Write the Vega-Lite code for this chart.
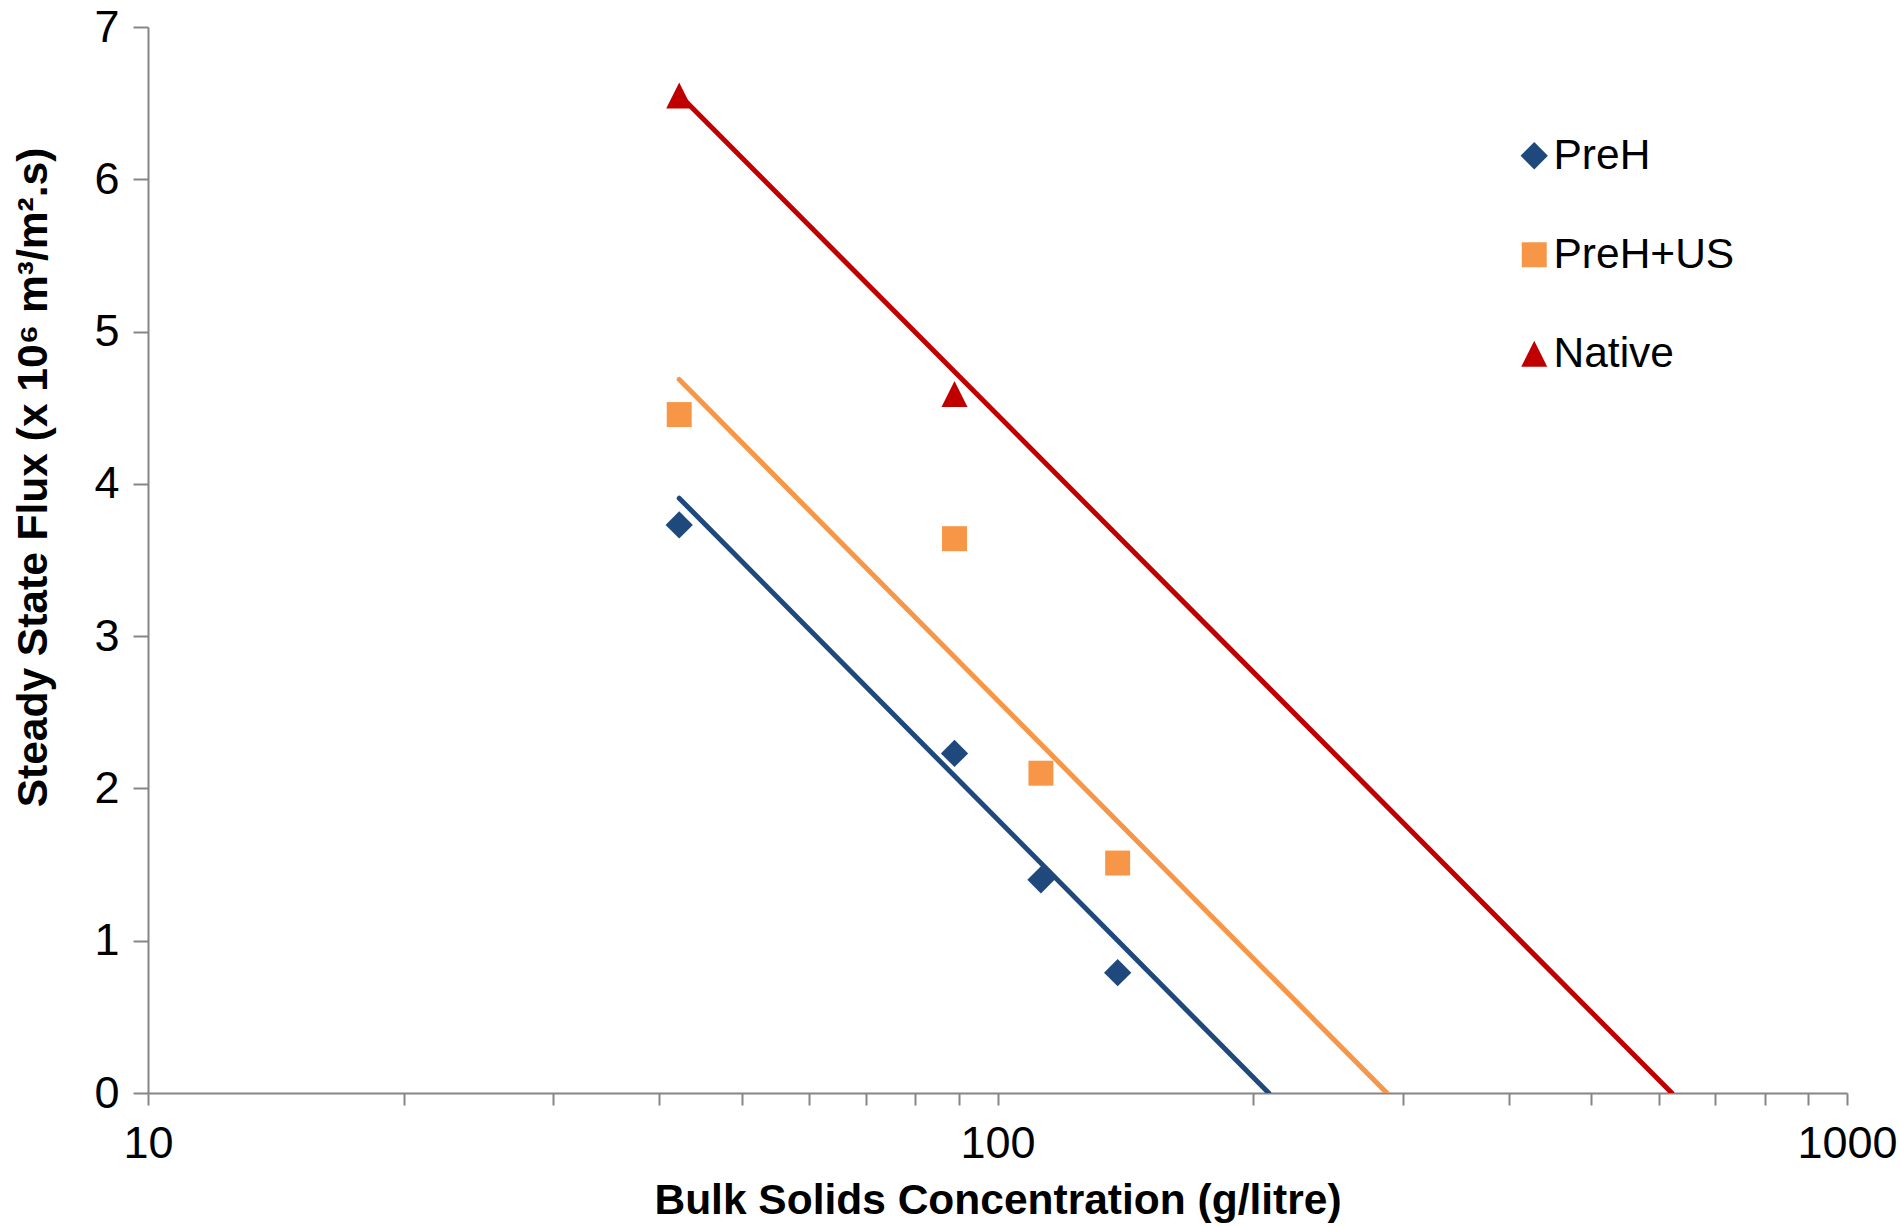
{
  "$schema": "https://vega.github.io/schema/vega-lite/v6.json",
  "autosize": {"type": "none"},
  "width": 1699,
  "height": 1066,
  "padding": {"left": 148, "top": 27, "right": 52, "bottom": 133},
  "background": "white",
  "config": {
    "view": {"stroke": null},
    "font": "Liberation Sans",
    "axis": {"grid": false, "domainColor": "#868686", "domainWidth": 2, "tickColor": "#868686", "tickWidth": 2, "labelColor": "black", "titleColor": "black", "labelFont": "Liberation Sans", "titleFont": "Liberation Sans"}
  },
  "datasets": {
    "points": [
      {"conc": 42.2, "flux": 3.73, "series": "PreH"},
      {"conc": 89, "flux": 2.23, "series": "PreH"},
      {"conc": 112.5, "flux": 1.40, "series": "PreH"},
      {"conc": 138.5, "flux": 0.79, "series": "PreH"},
      {"conc": 42.2, "flux": 4.455, "series": "PreH+US"},
      {"conc": 89, "flux": 3.64, "series": "PreH+US"},
      {"conc": 112.5, "flux": 2.10, "series": "PreH+US"},
      {"conc": 138.5, "flux": 1.51, "series": "PreH+US"},
      {"conc": 42.2, "flux": 6.55, "series": "Native"},
      {"conc": 89, "flux": 4.59, "series": "Native"}
    ],
    "trends": [
      {"conc": 42.2, "flux": 3.906, "trend": "PreH"},
      {"conc": 208.6, "flux": 0, "trend": "PreH"},
      {"conc": 42.2, "flux": 4.686, "trend": "PreH+US"},
      {"conc": 287.3, "flux": 0, "trend": "PreH+US"},
      {"conc": 42.2, "flux": 6.555, "trend": "Native"},
      {"conc": 622, "flux": 0, "trend": "Native"}
    ]
  },
  "layer": [
    {
      "data": {"name": "trends"},
      "mark": {"type": "line", "strokeWidth": 5, "strokeCap": "round", "clip": true},
      "encoding": {
        "x": {"field": "conc", "type": "quantitative", "scale": {"type": "log", "domain": [10, 1000], "nice": false},
          "axis": {
            "values": [10, 20, 30, 40, 50, 60, 70, 80, 90, 100, 200, 300, 400, 500, 600, 700, 800, 900, 1000],
            "labelExpr": "datum.value == 10 || datum.value == 100 || datum.value == 1000 ? format(datum.value, 'd') : ''",
            "labelFlush": false, "labelOverlap": false, "labelFontSize": 45, "labelPadding": 16, "tickSize": 12,
            "title": "Bulk Solids Concentration (g/litre)", "titleFontSize": 42.5, "titleFontWeight": "bold",
            "titleX": 849.5, "titleY": 107, "titleAlign": "center", "titleBaseline": "middle"
          }},
        "y": {"field": "flux", "type": "quantitative", "scale": {"domain": [0, 7], "nice": false},
          "axis": {
            "values": [0, 1, 2, 3, 4, 5, 6, 7], "format": "d", "labelFlush": false, "labelFontSize": 45, "labelPadding": 14, "tickSize": 15,
            "title": "Steady State Flux (x 10⁶ m³/m².s)", "titleFontSize": 42.5, "titleFontWeight": "bold",
            "titleX": -115, "titleY": 450, "titleAlign": "center", "titleBaseline": "middle", "titleAngle": -90
          }},
        "stroke": {"field": "trend", "type": "nominal", "scale": {"domain": ["Native", "PreH", "PreH+US"], "range": ["#C00000", "#1F497D", "#F79646"]}, "legend": null},
        "detail": {"field": "trend"}
      }
    },
    {
      "data": {"name": "points"},
      "mark": {"type": "point", "filled": true, "opacity": 1, "size": 676},
      "encoding": {
        "x": {"field": "conc", "type": "quantitative"},
        "y": {"field": "flux", "type": "quantitative"},
        "color": {"field": "series", "type": "nominal", "scale": {"domain": ["PreH", "PreH+US", "Native"], "range": ["#1F497D", "#F79646", "#C00000"]},
          "legend": {"orient": "none", "legendX": 1365, "legendY": 107.5, "title": null, "labelFontSize": 42.5, "labelFont": "Liberation Sans", "labelColor": "black", "labelLimit": 0, "rowPadding": 56, "labelOffset": -2, "symbolSize": 676, "symbolOpacity": 1}},
        "shape": {"field": "series", "type": "nominal", "scale": {"domain": ["PreH", "PreH+US", "Native"], "range": ["M0,-1.05L1.05,0L0,1.05L-1.05,0Z", "M-0.96,-0.96H0.96V0.96H-0.96Z", "M0,-1L1,1L-1,1Z"]}}
      }
    }
  ]
}
